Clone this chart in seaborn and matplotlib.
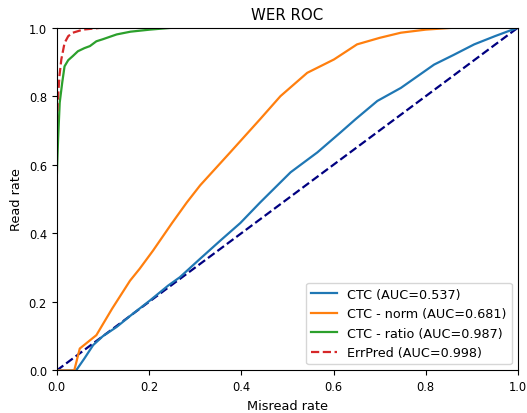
import matplotlib
matplotlib.use("Agg")
import matplotlib.pyplot as plt
import seaborn as sns

# --- data ---
ctc_x = [0, 0.042, 0.06, 0.079, 0.10, 0.13, 0.16, 0.202, 0.242, 0.267, 0.311, 0.354, 0.398, 0.441, 0.507, 0.565, 0.615, 0.648, 0.695, 0.746, 0.818, 0.86, 0.905, 0.95, 0.992, 1.0]
ctc_y = [0, 0, 0.035, 0.074, 0.10, 0.127, 0.16, 0.204, 0.248, 0.272, 0.326, 0.378, 0.43, 0.49, 0.578, 0.636, 0.694, 0.733, 0.786, 0.824, 0.892, 0.92, 0.951, 0.975, 0.996, 1.0]

norm_x = [0, 0.038, 0.05, 0.086, 0.12, 0.159, 0.18, 0.209, 0.25, 0.282, 0.311, 0.376, 0.441, 0.485, 0.543, 0.601, 0.651, 0.70, 0.746, 0.80, 0.854, 0.9, 1.0]
norm_y = [0, 0, 0.064, 0.103, 0.18, 0.262, 0.297, 0.35, 0.43, 0.49, 0.54, 0.636, 0.733, 0.80, 0.868, 0.907, 0.951, 0.97, 0.985, 0.994, 0.999, 1.0, 1.0]

ratio_x = [0, 0, 0.001, 0.003, 0.0065, 0.012, 0.017, 0.025, 0.035, 0.046, 0.06, 0.072, 0.086, 0.10, 0.13, 0.16, 0.202, 0.246, 0.3, 0.4, 1.0]
ratio_y = [0, 0.55, 0.6, 0.674, 0.781, 0.84, 0.887, 0.905, 0.917, 0.931, 0.94, 0.946, 0.96, 0.966, 0.98, 0.988, 0.994, 0.999, 1.0, 1.0, 1.0]

errpred_x = [0, 0, 0.001, 0.003, 0.006, 0.01, 0.017, 0.025, 0.035, 0.057, 0.093, 0.15, 1.0]
errpred_y = [0, 0.7, 0.75, 0.80, 0.86, 0.907, 0.955, 0.975, 0.985, 0.994, 0.999, 1.0, 1.0]

chance = [0, 1]

labels = ["CTC (AUC=0.537)", "CTC - norm (AUC=0.681)", "CTC - ratio (AUC=0.987)", "ErrPred (AUC=0.998)"]
title = "WER ROC"
xlabel = "Misread rate"
ylabel = "Read rate"

plt.rcParams.update({
    "font.family": ["DejaVu Sans"],
    "font.size": 9.3,
    "axes.titlesize": 10.8,
    "axes.labelsize": 9.3,
    "xtick.labelsize": 8.3,
    "ytick.labelsize": 8.3,
    "legend.fontsize": 9.2,
})

fig = plt.figure(figsize=(5.27, 4.14), dpi=100)
ax = fig.add_axes([0.1076, 0.1027, 0.983 - 0.1076, 0.931 - 0.1027])

lw = 1.6
sns.lineplot(x=chance, y=chance, ax=ax, color="navy", lw=lw, linestyle="--", sort=False, estimator=None)
sns.lineplot(x=ctc_x, y=ctc_y, ax=ax, color="tab:blue", lw=lw, sort=False, estimator=None, label=labels[0])
sns.lineplot(x=norm_x, y=norm_y, ax=ax, color="tab:orange", lw=lw, sort=False, estimator=None, label=labels[1])
sns.lineplot(x=ratio_x, y=ratio_y, ax=ax, color="tab:green", lw=lw, sort=False, estimator=None, label=labels[2])
sns.lineplot(x=errpred_x, y=errpred_y, ax=ax, color="tab:red", lw=lw, linestyle="--", sort=False, estimator=None, label=labels[3])

ax.set_xlim(0, 1)
ax.set_ylim(0, 1)
ax.set_xticks([0, 0.2, 0.4, 0.6, 0.8, 1.0])
ax.set_yticks([0, 0.2, 0.4, 0.6, 0.8, 1.0])
ax.set_title(title)
ax.set_xlabel(xlabel)
ax.set_ylabel(ylabel)
ax.legend(loc="lower right")

fig.savefig("out.png", dpi=100)
